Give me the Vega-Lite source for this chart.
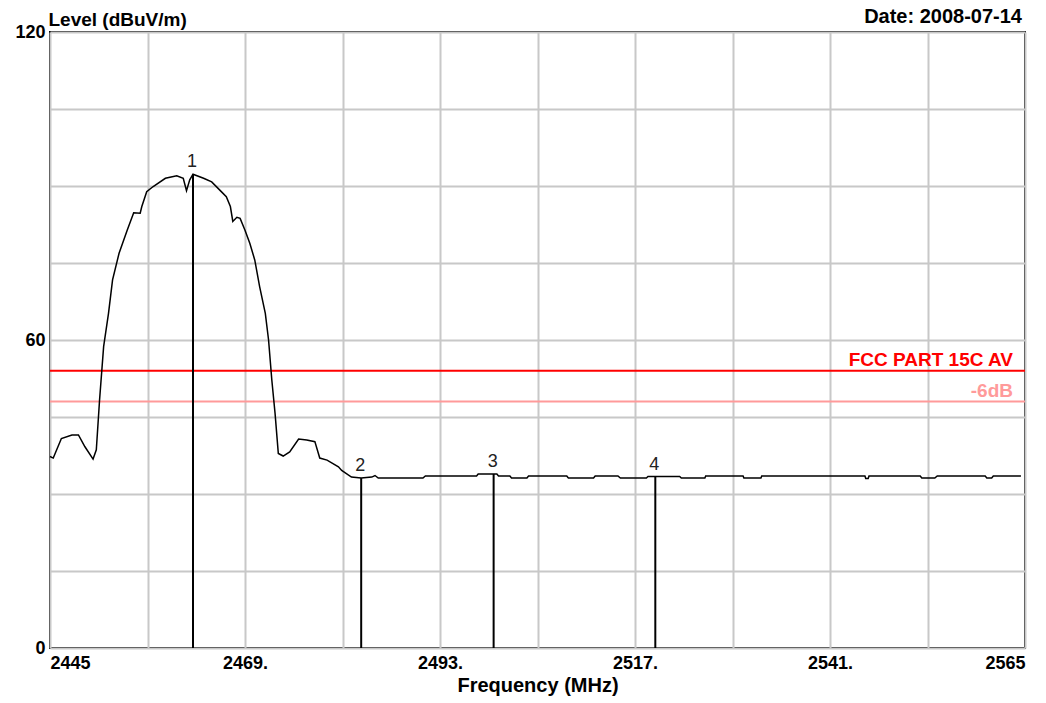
{
  "$schema": "https://vega.github.io/schema/vega-lite/v6.json",
  "width": 975,
  "height": 616,
  "autosize": {"type": "none"},
  "padding": {"left": 50, "top": 32, "right": 21, "bottom": 55},
  "background": "white",
  "config": {
    "font": "Liberation Sans",
    "view": {"stroke": "#000000", "strokeWidth": 2},
    "axis": {
      "domain": false,
      "ticks": false,
      "grid": true,
      "gridColor": "#c8c8c8",
      "gridWidth": 2,
      "labelFont": "Liberation Sans",
      "labelFontSize": 18,
      "labelFontWeight": "bold",
      "labelColor": "#000000",
      "titleFont": "Liberation Sans",
      "titleFontSize": 19,
      "titleFontWeight": "bold",
      "titleColor": "#000000"
    }
  },
  "datasets": {
    "trace": [
      {"freq": 2445.0, "level": 37.3}, {"freq": 2445.4, "level": 37.0}, {"freq": 2446.4, "level": 40.8},
      {"freq": 2447.7, "level": 41.5}, {"freq": 2448.5, "level": 41.5}, {"freq": 2449.3, "level": 39.2},
      {"freq": 2450.3, "level": 36.8}, {"freq": 2450.7, "level": 38.6}, {"freq": 2451.1, "level": 48.3},
      {"freq": 2451.6, "level": 58.7}, {"freq": 2452.2, "level": 65.2}, {"freq": 2452.7, "level": 71.7},
      {"freq": 2453.5, "level": 76.9}, {"freq": 2454.5, "level": 81.4}, {"freq": 2455.3, "level": 84.8},
      {"freq": 2456.1, "level": 84.7}, {"freq": 2456.3, "level": 86.0}, {"freq": 2456.9, "level": 88.9},
      {"freq": 2457.7, "level": 89.9}, {"freq": 2459.2, "level": 91.5}, {"freq": 2460.6, "level": 92.0},
      {"freq": 2461.4, "level": 91.5}, {"freq": 2461.8, "level": 89.1}, {"freq": 2462.2, "level": 91.2},
      {"freq": 2462.6, "level": 92.3}, {"freq": 2463.9, "level": 91.5}, {"freq": 2464.9, "level": 90.8},
      {"freq": 2465.9, "level": 89.2}, {"freq": 2466.7, "level": 87.9}, {"freq": 2467.2, "level": 86.0},
      {"freq": 2467.5, "level": 83.1}, {"freq": 2468.0, "level": 83.9}, {"freq": 2468.4, "level": 83.7},
      {"freq": 2469.0, "level": 81.4}, {"freq": 2469.6, "level": 78.8}, {"freq": 2470.2, "level": 75.6},
      {"freq": 2470.8, "level": 70.4}, {"freq": 2471.5, "level": 65.2}, {"freq": 2471.9, "level": 60.0},
      {"freq": 2472.3, "level": 52.2}, {"freq": 2472.7, "level": 45.7}, {"freq": 2473.1, "level": 37.9},
      {"freq": 2473.7, "level": 37.4}, {"freq": 2474.5, "level": 38.2}, {"freq": 2475.6, "level": 40.7},
      {"freq": 2476.6, "level": 40.5}, {"freq": 2477.6, "level": 40.2}, {"freq": 2478.2, "level": 37.0},
      {"freq": 2479.1, "level": 36.6}, {"freq": 2480.5, "level": 35.3}, {"freq": 2480.9, "level": 34.6},
      {"freq": 2482.1, "level": 33.3}, {"freq": 2483.3, "level": 33.1}, {"freq": 2484.6, "level": 33.3},
      {"freq": 2485.0, "level": 33.6}, {"freq": 2485.4, "level": 33.1}, {"freq": 2490.9, "level": 33.1},
      {"freq": 2491.2, "level": 33.5}, {"freq": 2497.5, "level": 33.5}, {"freq": 2497.7, "level": 33.9},
      {"freq": 2500.0, "level": 33.9}, {"freq": 2500.2, "level": 33.5}, {"freq": 2501.6, "level": 33.5},
      {"freq": 2501.8, "level": 33.1}, {"freq": 2503.7, "level": 33.1}, {"freq": 2503.9, "level": 33.5},
      {"freq": 2508.6, "level": 33.5}, {"freq": 2508.8, "level": 33.1}, {"freq": 2511.9, "level": 33.1},
      {"freq": 2512.1, "level": 33.5}, {"freq": 2514.9, "level": 33.5}, {"freq": 2515.2, "level": 33.1},
      {"freq": 2518.4, "level": 33.1}, {"freq": 2518.6, "level": 33.4}, {"freq": 2522.5, "level": 33.4},
      {"freq": 2522.7, "level": 33.1}, {"freq": 2525.6, "level": 33.1}, {"freq": 2525.7, "level": 33.5},
      {"freq": 2530.3, "level": 33.5}, {"freq": 2530.4, "level": 33.1}, {"freq": 2532.5, "level": 33.1},
      {"freq": 2532.6, "level": 33.5}, {"freq": 2545.3, "level": 33.5}, {"freq": 2545.4, "level": 33.0},
      {"freq": 2545.7, "level": 33.0}, {"freq": 2545.8, "level": 33.5}, {"freq": 2552.1, "level": 33.5},
      {"freq": 2552.3, "level": 33.1}, {"freq": 2553.9, "level": 33.1}, {"freq": 2554.2, "level": 33.5},
      {"freq": 2560.1, "level": 33.5}, {"freq": 2560.3, "level": 33.1}, {"freq": 2560.9, "level": 33.1},
      {"freq": 2561.1, "level": 33.5}, {"freq": 2564.5, "level": 33.5}
    ],
    "markers": [
      {"marker": "1", "freq": 2462.6, "level": 92.3},
      {"marker": "2", "freq": 2483.3, "level": 33.1},
      {"marker": "3", "freq": 2499.6, "level": 33.9},
      {"marker": "4", "freq": 2519.5, "level": 33.4}
    ],
    "limits": [
      {"limit": "FCC PART 15C AV", "level": 54, "edge": 2565},
      {"limit": "-6dB", "level": 48, "edge": 2565}
    ],
    "notes": [
      {"note": "Date: 2008-07-14", "edge": 2565, "level": 120}
    ]
  },
  "encoding": {
    "x": {
      "field": "freq",
      "type": "quantitative",
      "scale": {"domain": [2445, 2565], "nice": false, "zero": false},
      "axis": {
        "title": "Frequency (MHz)",
        "titleFontSize": 20,
        "values": [2445, 2457, 2469, 2481, 2493, 2505, 2517, 2529, 2541, 2553, 2565],
        "format": "d",
        "labelExpr": "datum.value == 2445 || datum.value == 2565 ? datum.label : ((datum.value - 2445) % 24 == 0 ? datum.label + '.' : '')",
        "labelFlush": true,
        "labelOverlap": false,
        "labelPadding": 6,
        "titlePadding": 3
      }
    },
    "y": {
      "field": "level",
      "type": "quantitative",
      "scale": {"domain": [0, 120], "nice": false},
      "axis": {
        "title": "Level (dBuV/m)",
        "titleAngle": 0,
        "titleAlign": "left",
        "titleBaseline": "alphabetic",
        "titleX": -2,
        "titleY": -7,
        "values": [0, 15, 30, 45, 60, 75, 90, 105, 120],
        "labelExpr": "datum.value % 60 == 0 ? datum.label : ''",
        "labelOverlap": false,
        "labelPadding": 5,
        "labelBaseline": "middle"
      }
    }
  },
  "layer": [
    {
      "data": {"name": "limits"},
      "mark": {"type": "rule", "strokeWidth": 2},
      "encoding": {
        "x": null,
        "color": {
          "field": "limit",
          "type": "nominal",
          "scale": {"domain": ["FCC PART 15C AV", "-6dB"], "range": ["#ff0000", "#ff9a9a"]},
          "legend": null
        }
      }
    },
    {
      "data": {"name": "limits"},
      "mark": {"type": "text", "align": "right", "baseline": "alphabetic", "dy": -5, "dx": -12, "fontSize": 19, "fontWeight": "bold"},
      "encoding": {
        "x": {"field": "edge", "type": "quantitative"},
        "text": {"field": "limit"},
        "color": {
          "field": "limit",
          "type": "nominal",
          "scale": {"domain": ["FCC PART 15C AV", "-6dB"], "range": ["#ff0000", "#ff9a9a"]},
          "legend": null
        }
      }
    },
    {
      "data": {"name": "trace"},
      "mark": {"type": "line", "color": "#000000", "strokeWidth": 1.5, "interpolate": "linear"}
    },
    {
      "data": {"name": "markers"},
      "mark": {"type": "rule", "color": "#000000", "strokeWidth": 2},
      "encoding": {"y2": {"datum": 0}}
    },
    {
      "data": {"name": "markers"},
      "mark": {"type": "text", "baseline": "bottom", "dy": -3, "dx": -1, "fontSize": 18, "color": "#222222"},
      "encoding": {"text": {"field": "marker"}}
    },
    {
      "data": {"name": "notes"},
      "mark": {"type": "text", "align": "right", "baseline": "alphabetic", "dy": -9, "dx": -3, "fontSize": 20, "fontWeight": "bold", "color": "#000000"},
      "encoding": {
        "x": {"field": "edge", "type": "quantitative"},
        "text": {"field": "note"}
      }
    }
  ]
}
